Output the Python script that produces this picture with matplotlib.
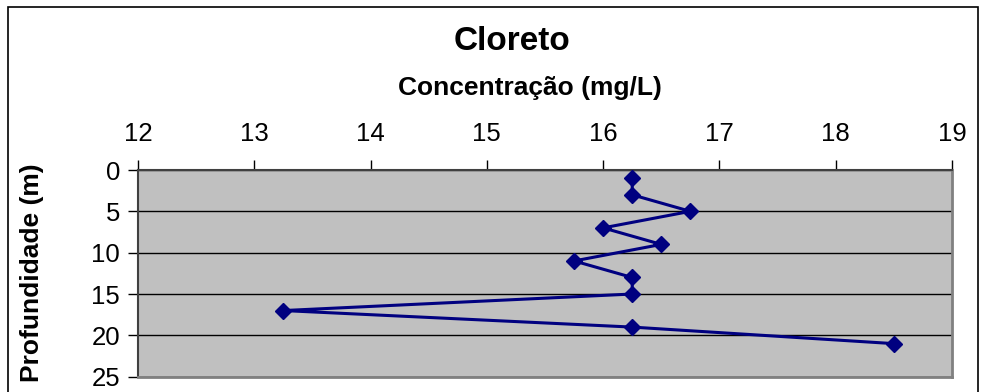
import matplotlib
matplotlib.use("Agg")
import matplotlib.pyplot as plt
from matplotlib.patches import Rectangle

plt.rcParams['font.family'] = ['Liberation Sans', 'DejaVu Sans']

concentration = [16.25, 16.25, 16.75, 16.0, 16.5, 15.75, 16.25, 16.25, 13.25, 16.25, 18.5]
depth = [1, 3, 5, 7, 9, 11, 13, 15, 17, 19, 21]
x_ticks = [12, 13, 14, 15, 16, 17, 18, 19]
y_ticks = [0, 5, 10, 15, 20, 25]

W, H = 984, 392
fig = plt.figure(figsize=(W / 100, H / 100), dpi=100)
fig.patches.append(Rectangle((8 / W, -0.1), 970 / W, 1.1 - 7 / H, transform=fig.transFigure,
                             fill=False, edgecolor='black', linewidth=1.2))

ax_l, ax_r, ax_t, ax_b = 138, 952, 170, 376.7
ax = fig.add_axes([ax_l / W, 1 - ax_b / H, (ax_r - ax_l) / W, (ax_b - ax_t) / H])
ax.set_facecolor('#C0C0C0')
ax.plot(concentration, depth, color='#000080', linewidth=2.2, marker='D', markersize=8.5,
        markerfacecolor='#000080', markeredgecolor='#000080', zorder=3)

ax.set_xlim(12, 19)
ax.set_ylim(25, 0)
ax.set_xticks(x_ticks)
ax.set_yticks(y_ticks)
ax.xaxis.tick_top()
ax.xaxis.set_label_position('top')
ax.tick_params(axis='x', direction='out', length=7, width=1, labelsize=18.5, pad=10, colors='black')
ax.tick_params(axis='y', direction='out', length=7, width=1, labelsize=18.5, pad=6)
ax.yaxis.grid(True, color='black', linewidth=1)
ax.set_axisbelow(True)

for side in ['top', 'left']:
    ax.spines[side].set_color('#404040')
    ax.spines[side].set_linewidth(1.5)
for side in ['bottom', 'right']:
    ax.spines[side].set_color('#808080')
    ax.spines[side].set_linewidth(2)

ax_h = ax_b - ax_t
ax_w = ax_r - ax_l
ax.set_xlabel('Concentração (mg/L)', fontsize=19, fontweight='bold', va='center')
ax.xaxis.set_label_coords((530 - ax_l) / ax_w, 1 + (ax_t - 88) / ax_h)
ax.set_ylabel('Profundidade (m)', fontsize=19, fontweight='bold', va='center')
ax.yaxis.set_label_coords((32 - ax_l) / ax_w, 0.5 - (273 - (ax_t + ax_b) / 2) / ax_h)
fig.text(512 / W, 1 - 42 / H, 'Cloreto', ha='center', va='center', fontsize=24, fontweight='bold')

fig.savefig('out.png', dpi=100)
